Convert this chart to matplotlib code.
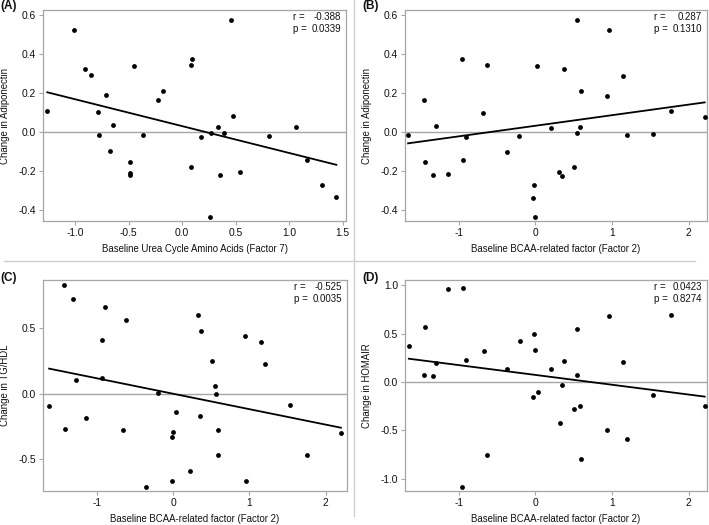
import numpy as np
import matplotlib.pyplot as plt

plt.rcParams['font.family'] = ['Liberation Sans', 'DejaVu Sans']

# Panel A: urea cycle factor vs change in adiponectin
a_x = [-1.26, -1.01, -0.91, -0.85, -0.79, -0.78, -0.71, -0.67, -0.65, -0.49,
       -0.49, -0.49, -0.45, -0.37, -0.23, -0.18, 0.08, 0.09, 0.08, 0.18,
       0.27, 0.26, 0.33, 0.35, 0.39, 0.46, 0.47, 0.54, 0.81, 1.06,
       1.17, 1.31, 1.44]
a_y = [0.108, 0.526, 0.325, 0.291, 0.103, -0.014, 0.188, -0.097, 0.034, -0.156,
       -0.210, -0.219, 0.338, -0.015, 0.162, 0.210, 0.345, 0.376, -0.178, -0.026,
       -0.007, -0.436, 0.024, -0.222, -0.003, 0.574, 0.080, -0.203, -0.021, 0.024,
       -0.144, -0.272, -0.335]

# Panel B: BCAA factor vs change in adiponectin
b_x = [-1.66, -1.45, -1.44, -1.33, -1.30, -1.14, -0.95, -0.94, -0.90, -0.68,
       -0.63, -0.37, -0.21, -0.02, -0.03, -0.01, 0.02, 0.21, 0.31, 0.345,
       0.37, 0.51, 0.54, 0.55, 0.585, 0.59, 0.93, 0.96, 1.15, 1.20,
       1.54, 1.77, 2.21]
b_y = [-0.014, 0.162, -0.156, -0.220, 0.032, -0.214, 0.374, -0.144, -0.026, 0.100,
       0.345, -0.100, -0.022, -0.272, -0.337, -0.436, 0.338, 0.022, -0.205, -0.224,
       0.323, -0.178, -0.007, 0.573, 0.024, 0.209, 0.186, 0.525, 0.289, -0.017,
       -0.010, 0.106, 0.079]

# Panel C: BCAA factor vs change in TG/HDL
c_x = [-1.63, -1.43, -1.42, -1.31, -1.28, -1.14, -0.94, -0.93, -0.89, -0.66,
       -0.62, -0.36, -0.195, -0.02, -0.02, -0.01, 0.035, 0.22, 0.32, 0.35,
       0.37, 0.51, 0.55, 0.555, 0.585, 0.59, 0.94, 0.96, 1.15, 1.20,
       1.53, 1.76, 2.20]
c_y = [-0.094, 0.827, -0.266, 0.723, 0.107, -0.183, 0.410, 0.117, 0.660, -0.274,
       0.563, -0.713, 0.008, -0.668, -0.333, -0.292, -0.137, -0.586, 0.599, -0.168,
       0.475, 0.251, 0.061, -0.003, -0.274, -0.467, 0.439, -0.668, 0.391, 0.223,
       -0.089, -0.470, -0.297]

# Panel D: BCAA factor vs change in HOMA-IR
d_x = [-1.65, -1.44, -1.45, -1.33, -1.30, -1.14, -0.94, -0.95, -0.90, -0.67,
       -0.63, -0.37, -0.205, -0.02, -0.01, -0.03, 0.03, 0.21, 0.32, 0.345,
       0.37, 0.51, 0.54, 0.55, 0.585, 0.59, 0.93, 0.96, 1.15, 1.20,
       1.54, 1.77, 2.21]
d_y = [0.369, 0.566, 0.072, 0.059, 0.200, 0.966, 0.976, -1.086, 0.224, 0.317,
       -0.759, 0.138, 0.428, 0.497, 0.328, -0.159, -0.107, 0.138, -0.428, -0.031,
       0.214, -0.276, 0.545, 0.072, -0.248, -0.797, -0.497, 0.686, 0.207, -0.593,
       -0.131, 0.693, -0.252]

panels = [
    dict(tag="(A)", x=a_x, y=a_y, r="-0.388", p="0.0339",
         xlabel="Baseline Urea Cycle Amino Acids (Factor 7)", ylabel="Change in Adiponectin",
         box=(43, 10, 346, 221), tag_y=6, xlim=(-1.30, 1.53), ylim=(-0.456, 0.626),
         xticks=[-1.0, -0.5, 0.0, 0.5, 1.0, 1.5], yticks=[-0.4, -0.2, 0.0, 0.2, 0.4, 0.6],
         xfmt="{:.1f}", yfmt="{:.1f}"),
    dict(tag="(B)", x=b_x, y=b_y, r="0.287", p="0.1310",
         xlabel="Baseline BCAA-related factor (Factor 2)", ylabel="Change in Adiponectin",
         box=(405, 10, 707, 221), tag_y=6, xlim=(-1.70, 2.24), ylim=(-0.456, 0.626),
         xticks=[-1, 0, 1, 2], yticks=[-0.4, -0.2, 0.0, 0.2, 0.4, 0.6],
         xfmt="{:.0f}", yfmt="{:.1f}"),
    dict(tag="(C)", x=c_x, y=c_y, r="-0.525", p="0.0035",
         xlabel="Baseline BCAA-related factor (Factor 2)", ylabel="Change in TG/HDL",
         box=(43, 280, 347, 491), tag_y=278, xlim=(-1.71, 2.28), ylim=(-0.741, 0.866),
         xticks=[-1, 0, 1, 2], yticks=[-0.5, 0.0, 0.5],
         xfmt="{:.0f}", yfmt="{:.1f}"),
    dict(tag="(D)", x=d_x, y=d_y, r="0.0423", p="0.8274",
         xlabel="Baseline BCAA-related factor (Factor 2)", ylabel="Change in HOMAIR",
         box=(405, 280, 707, 491), tag_y=278, xlim=(-1.70, 2.24), ylim=(-1.128, 1.055),
         xticks=[-1, 0, 1, 2], yticks=[-1.0, -0.5, 0.0, 0.5, 1.0],
         xfmt="{:.0f}", yfmt="{:.1f}"),
]

W, H = 709, 525
fig = plt.figure(figsize=(W / 100, H / 100), dpi=100)
grey = "#a6a6a6"
txt = "#111111"

for pn in panels:
    l, t, r, b = pn["box"]
    ax = fig.add_axes([l / W, 1 - b / H, (r - l) / W, (b - t) / H])
    x = np.array(pn["x"])
    y = np.array(pn["y"])

    ax.axhline(0, color=grey, lw=1.0, zorder=1)
    ax.scatter(x, y, s=12, color="black", zorder=3, linewidths=0)
    slope, icpt = np.polyfit(x, y, 1)
    xs = np.array([x.min(), x.max()])
    ax.plot(xs, slope * xs + icpt, color="black", lw=1.3, zorder=2)

    ax.set_xlim(pn["xlim"])
    ax.set_ylim(pn["ylim"])
    ax.set_xticks(pn["xticks"])
    ax.set_xticklabels([pn["xfmt"].format(v) for v in pn["xticks"]])
    ax.set_yticks(pn["yticks"])
    ax.set_yticklabels([pn["yfmt"].format(v) for v in pn["yticks"]])
    ax.tick_params(length=3, width=0.8, color=grey, labelsize=7.4,
                   labelcolor=txt, pad=2)
    for sp in ax.spines.values():
        sp.set_color(grey)
        sp.set_linewidth(0.9)

    for txt_s, dx, dy, ha in [("r =", -53, -7, "left"), (pn["r"], -5, -7, "right"),
                              ("p =", -53, -19, "left"), (pn["p"], -5, -19, "right")]:
        ax.annotate(txt_s, xy=(1, 1), xycoords="axes fraction", xytext=(dx, dy),
                    textcoords="offset pixels", ha=ha, va="center", fontsize=7.0, color=txt)

    # axis labels placed in figure pixels
    fig.text((l - 38) / W, 1 - ((t + b) / 2) / H, pn["ylabel"], rotation=90,
             ha="center", va="center", fontsize=6.9, color=txt)
    fig.text(((l + r) / 2) / W, 1 - (b + 28) / H, pn["xlabel"],
             ha="center", va="center", fontsize=6.9, color=txt)
    fig.text((l - 43) / W, 1 - pn["tag_y"] / H, pn["tag"], ha="left", va="center",
             fontsize=8.5, fontweight="bold", color=txt)

# panel separators
fig.add_artist(plt.Line2D([354 / W, 354 / W], [1 - 0 / H, 1 - 516 / H],
                          color="#cfcfcf", lw=1.0, transform=fig.transFigure))
fig.add_artist(plt.Line2D([4 / W, 695 / W], [1 - 261 / H, 1 - 261 / H],
                          color="#cfcfcf", lw=1.0, transform=fig.transFigure))

fig.savefig("out.png", dpi=100, facecolor="white")
